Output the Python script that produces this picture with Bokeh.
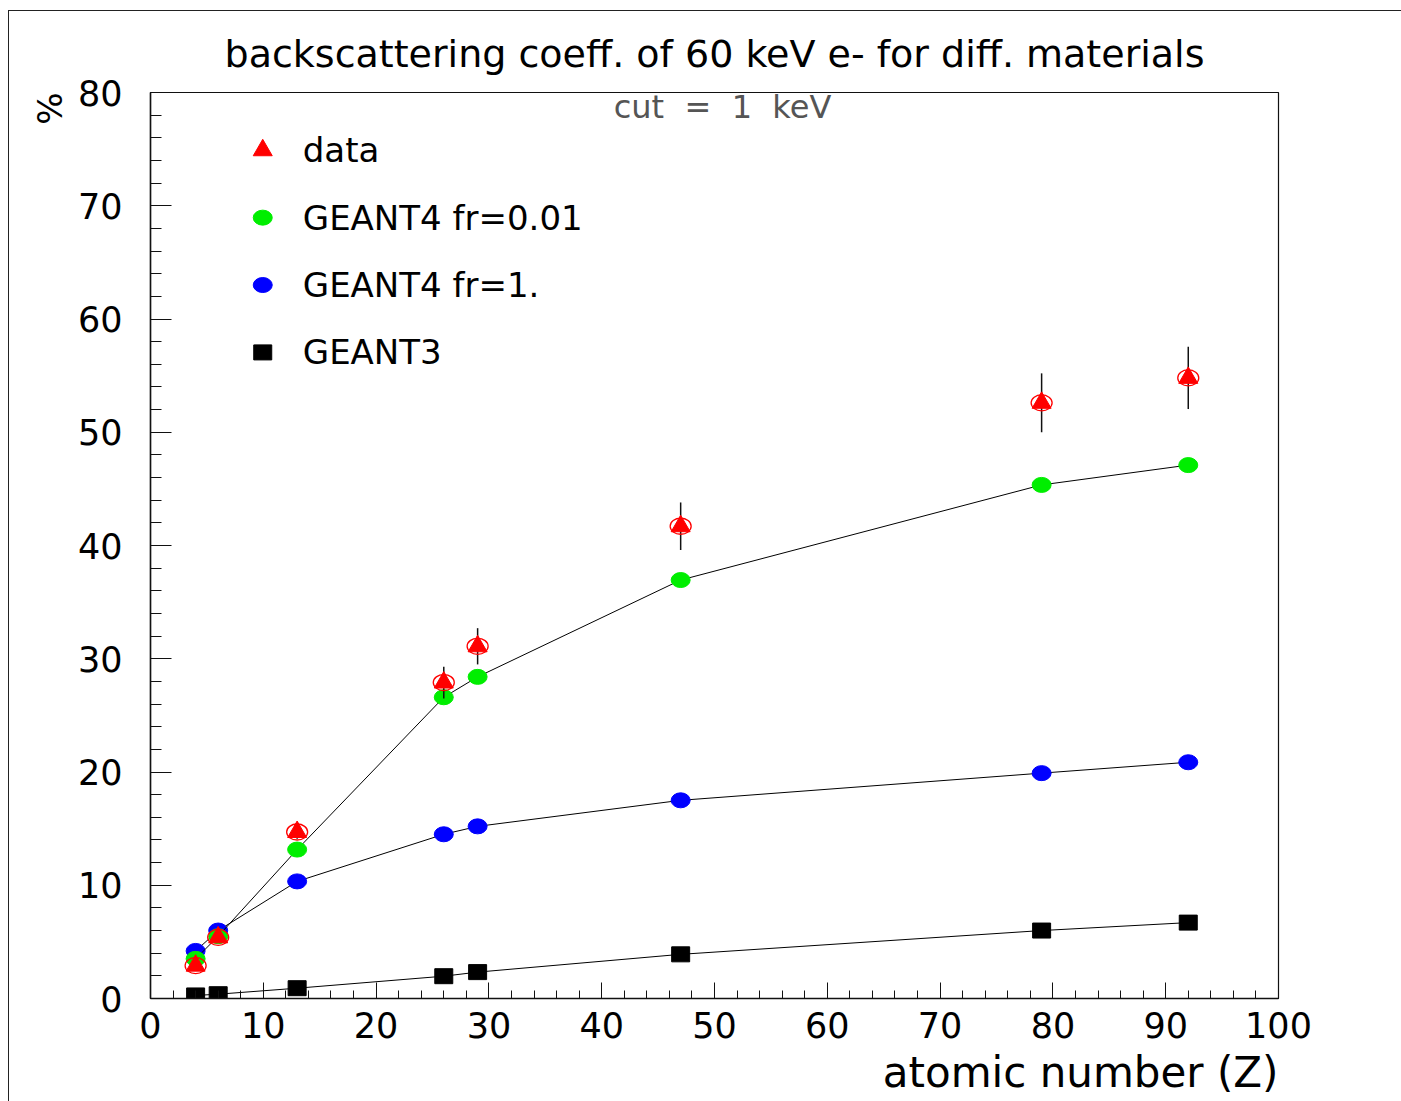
from bokeh.plotting import figure
from bokeh.models import Range1d, FixedTicker, Label, ColumnDataSource, Title
from bokeh.layouts import column
from bokeh.core.properties import value
from bokeh.embed import file_html
from bokeh.resources import INLINE

# atomic numbers of the target materials
Z = [4, 6, 13, 26, 29, 47, 79, 92]

# backscattering coefficient (%) of 60 keV electrons
data_vals = [2.9, 5.4, 14.7, 27.9, 31.1, 41.7, 52.6, 54.8]
data_err = [0.3, 0.4, 0.6, 1.4, 1.6, 2.1, 2.6, 2.75]
g4_fr001 = [3.5, 5.5, 13.15, 26.6, 28.4, 36.95, 45.35, 47.1]
g4_fr1 = [4.2, 6.0, 10.34, 14.5, 15.2, 17.5, 19.9, 20.86]
g3 = [0.27, 0.38, 0.91, 1.97, 2.33, 3.9, 6.0, 6.7]

legend_labels = ["data", "GEANT4 fr=0.01", "GEANT4 fr=1.", "GEANT3"]

x_major = list(range(0, 101, 10))
x_minor = list(range(0, 101, 2))
y_major = list(range(0, 81, 10))
y_minor = list(range(0, 81, 2))

FONT = "DejaVu Sans"

p = figure(width=1393, height=1091, output_backend="svg", toolbar_location=None,
           x_range=Range1d(0, 100), y_range=Range1d(0, 80),
           min_border_left=141, min_border_right=124, min_border_top=81, min_border_bottom=104)
p.grid.visible = False
p.outline_line_color = "#111111"
p.outline_line_width = 1.2
p.background_fill_color = "white"
p.border_fill_color = "white"

for ax, maj, mnr, tin, tmin in ((p.xaxis[0], x_major, x_minor, 16, 8),
                                (p.yaxis[0], y_major, y_minor, 21, 11)):
    ax.ticker = FixedTicker(ticks=maj, minor_ticks=mnr)
    ax.axis_line_color = "#111111"
    ax.axis_line_width = 1.5
    ax.major_tick_line_color = "#111111"
    ax.minor_tick_line_color = "#111111"
    ax.major_tick_in = tin
    ax.major_tick_out = 0
    ax.minor_tick_in = tmin
    ax.minor_tick_out = 0
    ax.major_label_text_font = FONT
    ax.major_label_text_font_size = "35px"
    ax.major_label_text_color = "black"
p.xaxis[0].major_label_standoff = 13
p.yaxis[0].major_label_standoff = 28

src = ColumnDataSource(dict(
    z=Z, data=data_vals,
    lo=[v - e for v, e in zip(data_vals, data_err)],
    hi=[v + e for v, e in zip(data_vals, data_err)],
    g4a=g4_fr001, g4b=g4_fr1, g3=g3,
))

# GEANT4 fr=1.
p.line("z", "g4b", source=src, line_color="black", line_width=1)
p.ellipse("z", "g4b", source=src, width=19, height=15, width_units="screen",
          height_units="screen", fill_color="#0000ff", line_color="#0000ff")
# GEANT4 fr=0.01
p.line("z", "g4a", source=src, line_color="black", line_width=1)
p.ellipse("z", "g4a", source=src, width=19, height=15, width_units="screen",
          height_units="screen", fill_color="#00ee00", line_color="#00ee00")
# GEANT3
p.line("z", "g3", source=src, line_color="black", line_width=1)
p.rect("z", "g3", source=src, width=18, height=15, width_units="screen",
       height_units="screen", fill_color="black", line_color="black")
# measured data with error bars
p.segment("z", "lo", "z", "hi", source=src, line_color="#111111", line_width=1.5)
p.ellipse("z", "data", source=src, width=21, height=16, width_units="screen",
          height_units="screen", fill_color=None, line_color="#ff0000", line_width=1.3)
p.scatter("z", "data", source=src, marker="triangle", size=19,
          fill_color="#ff0000", line_color="#ff0000")

# legend block placed in the upper left of the frame
leg_x, leg_text_x, leg_top, leg_step = 9.95, 13.5, 74.9, 5.95
leg_y = [leg_top - i * leg_step for i in range(4)]
p.scatter([leg_x], [leg_y[0]], marker="triangle", size=19,
          fill_color="#ff0000", line_color="#ff0000")
p.ellipse([leg_x], [leg_y[1]], width=19, height=15, width_units="screen",
          height_units="screen", fill_color="#00ee00", line_color="#00ee00")
p.ellipse([leg_x], [leg_y[2]], width=19, height=15, width_units="screen",
          height_units="screen", fill_color="#0000ff", line_color="#0000ff")
p.rect([leg_x], [leg_y[3]], width=18, height=15, width_units="screen",
       height_units="screen", fill_color="black", line_color="black")
p.text([leg_text_x] * 4, leg_y, text=legend_labels, text_font=value(FONT),
       text_font_size="34px", text_baseline="middle", text_align="left", text_color="black")

# cut annotation just under the top edge of the frame
p.add_layout(Label(x=572, y=892, x_units="screen", y_units="screen",
                   text="cut\u00a0\u00a0=\u00a0\u00a01\u00a0\u00a0keV",
                   text_font="'DejaVu Sans ExtraLight', 'DejaVu Sans'", text_font_size="32px",
                   text_align="center", text_baseline="middle", text_color="#555555"))

# plot title, x axis title (right aligned) and y axis unit (top aligned)
p.add_layout(Title(text="backscattering coeff. of 60 keV e- for diff. materials",
                   text_font=FONT, text_font_size="38px", text_font_style="normal",
                   align="center", standoff=34, text_color="black"), "above")
p.add_layout(Title(text="atomic number (Z)", text_font=FONT, text_font_size="42px",
                   text_font_style="normal", align="right", text_color="black"), "below")
p.add_layout(Title(text="%", text_font=FONT, text_font_size="34px",
                   text_font_style="normal", align="right", text_color="black"), "left")

root = column(p, margin=(10, 0, 0, 8),
              styles={"border-top": "1.5px solid #222222", "border-left": "1.5px solid #222222"})

open("out.html", "w").write(file_html(root, INLINE))
